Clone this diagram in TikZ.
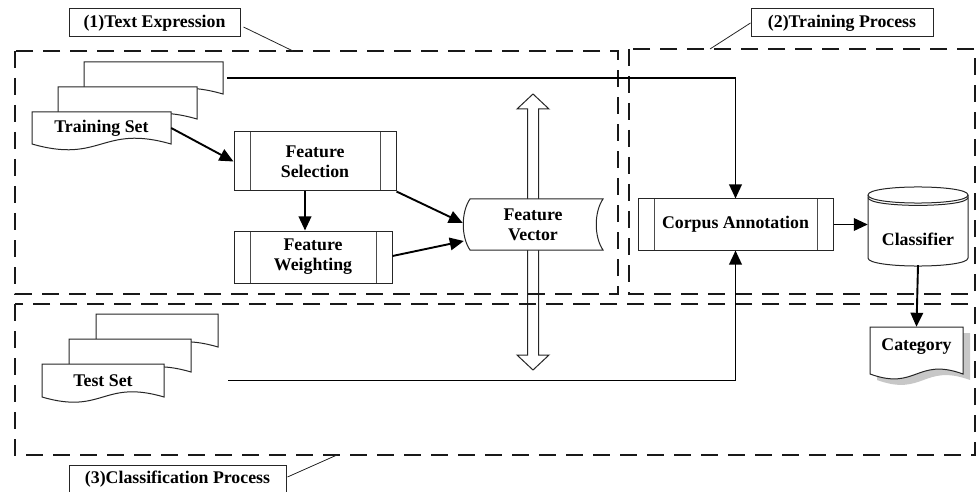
\documentclass[tikz,border=0pt]{standalone}
\usepackage{fontspec}
\setmainfont{Liberation Serif}
\usetikzlibrary{arrows.meta,calc}
\newcommand\docshape[6][]{%
  \draw[docline,#1] (#2,#3) -- ({#2+#4},#3) -- ({#2+#4},{#3+#5})
    .. controls ({#2+0.5*#4},{#3+#5-#6}) and ({#2+0.5*#4},{#3+#5+#6}) .. (#2,{#3+#5}) -- cycle;}
\tikzset{
  docline/.style={line width=1pt, draw=black!85, fill=white},
  shapeline/.style={line width=1pt, draw=black!85},
  grp/.style={line width=2.3pt, dash pattern=on 17pt off 10pt, draw=black!90},
  lbl/.style={draw=black!85, line width=1pt, fill=white, inner sep=0pt},
  leader/.style={line width=0.8pt, draw=black!85},
  plain/.style={inner sep=0pt, align=center},
  proc/.style={draw=black!85, line width=1pt, fill=white, inner sep=0pt, align=center,
    path picture={\draw[line width=1pt, draw=black!70]
      ([xshift=16pt]path picture bounding box.north west) -- ([xshift=16pt]path picture bounding box.south west)
      ([xshift=-16pt]path picture bounding box.north east) -- ([xshift=-16pt]path picture bounding box.south east);}},
  arr/.style={line width=1.9pt, draw=black, -{Triangle[length=14pt,width=12.5pt]}},
  hollow/.style={line width=1pt, draw=black!85, fill=white}
}
\begin{document}
\begin{tikzpicture}[x=1pt,y=-1pt, font=\fontsize{17.8}{20}\selectfont\bfseries]
\useasboundingbox (0,0) rectangle (978,492);

% hollow double arrow
\draw[hollow] (533,94) -- (549,109) -- (538.5,109) -- (538.5,355) -- (549,355) -- (533,370)
  -- (517,355) -- (527.5,355) -- (527.5,109) -- (517,109) -- cycle;

% group boxes
\draw[grp] (15,51) rectangle (618,294);
\draw[grp] (629,49) rectangle (975,294);
\draw[grp] (15,304) rectangle (975,455);

% group labels
\node[lbl, minimum width=171, minimum height=28] (l1) at (154.5,23) {(1)Text Expression};
\node[lbl, minimum width=182, minimum height=28] (l2) at (842,23) {(2)Training Process};
\node[lbl, minimum width=217, minimum height=28] (l3) at (177.5,479) {(3)Classification Process};
\coordinate (l1e) at (293,51);
\coordinate (l2e) at (710,49);
\coordinate (l3e) at (337,455);
\draw[leader] ([shift={(3,4)}]l1.east) -- (l1e);
\draw[leader] (l2.west) -- (l2e);
\draw[leader] ([shift={(1,-2)}]l3.east) -- (l3e);

% training documents
\docshape{84}{62}{139}{32}{20}
\docshape{58}{87}{139}{32}{20}
\docshape{32}{112}{139}{32}{20}
\node[plain, minimum width=139, minimum height=32] (trainC) at (153.5,78) {};
\node[plain, minimum width=139, minimum height=32] (trainA) at (101.5,128) {Training Set};

% test documents
\docshape{96}{314}{122}{33}{18}
\docshape{69}{339}{122}{33}{18}
\docshape{42}{364}{122}{33}{18}
\node[plain, minimum width=122, minimum height=33] (testA) at (103,380.5) {Test Set};

% process boxes
\node[proc, minimum width=162, minimum height=59] (fsel) at (315,161.5) {Feature\\Selection};
\node[proc, minimum width=158, minimum height=52] (fwt) at (313,257) {Feature\\Weighting};
\node[proc, minimum width=195, minimum height=51] (corpus) at (735.5,224.5) {Corpus Annotation};

% feature vector (stored data)
\draw[docline] (470,199) -- (603,199) .. controls (594,212) and (594,237) .. (603,250)
  -- (470,250) .. controls (461,237) and (461,212) .. (470,199) -- cycle;
\node[plain, minimum width=140, minimum height=51] (fvec) at (533,224.5) {Feature\\Vector};

% classifier (cylinder)
\draw[docline] (868,195) -- (868,258) .. controls (868,268.7) and (968,268.7) .. (968,258)
  -- (968,195) .. controls (968,184.3) and (868,184.3) .. (868,195) -- cycle;
\draw[shapeline] (868,195) .. controls (868,205.7) and (968,205.7) .. (968,195);
\draw[shapeline] (868,197.5) .. controls (868,208) and (968,208) .. (968,197.5);
\node[plain, minimum width=100, minimum height=52] (cls) at (918,239) {Classifier};

% category document with shadow
\docshape[fill=black!22, draw=none]{877}{333}{93}{47}{17}
\docshape{870}{327}{93}{47}{17}
\node[plain, minimum width=93, minimum height=40] (cat) at (916.5,347) {Category};

% connectors
\draw[arr, shorten <=4pt] (trainC.east) -| (corpus.north);
\draw[arr, shorten <=64pt] (testA.east) -| (corpus.south);
\draw[arr] (trainA.east) -- (fsel.west);
\draw[arr] ([xshift=-10pt]fsel.south) -- ([xshift=-10pt]fsel.south |- fwt.north);
\draw[arr] (fsel.south east) -- ($(fvec.west)+(0,-1.5)$);
\draw[arr] ($(fwt.east)+(0,-1)$) -- ($(fvec.west)+(1,16.5)$);
\draw[arr] (corpus.east) -- (corpus.east -| cls.west);
\draw[arr] (cls.south) -- (cat.north);
\end{tikzpicture}
\end{document}
